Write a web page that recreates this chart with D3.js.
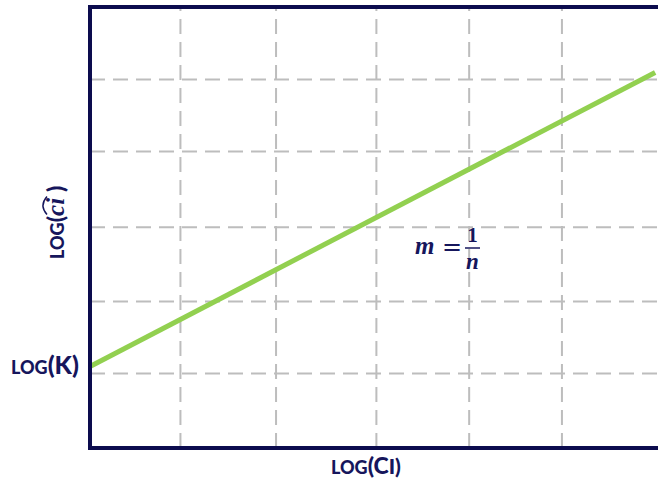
<!DOCTYPE html>
<html>
<head>
<meta charset="utf-8">
<script src="https://cdn.jsdelivr.net/npm/d3@7"></script>
<style>
  html, body { margin: 0; padding: 0; background: #ffffff; }
  svg { display: block; }
</style>
</head>
<body>
<svg id="chart" width="658" height="480"></svg>
<script>
// Freundlich isotherm, linearised: log(q) = log(K) + (1/n) log(C)
const logC = [0, 5.97];
const logQ = [1.11, 5.11];

// Dashed grid positions (axis units)
const gridX = [0.95, 1.96, 3.02, 4.0, 4.98];
const gridY = [1.02, 2.0, 3.01, 4.04, 5.02];

const navy = "#0c0c4e";
const textNavy = "#16165c";
const green = "#92d050";
const gridGrey = "#bdbdbd";

const svg = d3.select("#chart");

const x = d3.scaleLinear().domain([0, 6]).range([90, 658]);
const y = d3.scaleLinear().domain([0, 6]).range([448, 7]);

// Grid lines via axes with full-length ticks
const gx = svg.append("g")
  .attr("transform", `translate(0,${y(0)})`)
  .call(d3.axisBottom(x).tickValues(gridX).tickSize(-(y(0) - y(6))).tickFormat(""));
gx.select(".domain").remove();
gx.selectAll(".tick line")
  .attr("stroke", gridGrey).attr("stroke-width", 2).attr("stroke-dasharray", "15,8");

const gy = svg.append("g")
  .attr("transform", `translate(${x(0)},0)`)
  .call(d3.axisLeft(y).tickValues(gridY).tickSize(-(x(6) - x(0))).tickFormat(""));
gy.select(".domain").remove();
gy.selectAll(".tick line")
  .attr("stroke", gridGrey).attr("stroke-width", 2).attr("stroke-dasharray", "15,8");

// Fitted line
const pts = logC.map((c, i) => [c, logQ[i]]);
svg.append("path")
  .datum(pts)
  .attr("fill", "none")
  .attr("stroke", green)
  .attr("stroke-width", 5)
  .attr("d", d3.line().x(d => x(d[0])).y(d => y(d[1])));

// Frame: left axis, bottom axis, top edge
svg.append("path")
  .attr("fill", "none")
  .attr("stroke", navy)
  .attr("stroke-width", 4)
  .attr("d", `M${x(6)},${y(6)} H${x(0)} V${y(0)} H${x(6)}`);

const sansFamily = "'Lato', 'Open Sans', sans-serif";

// y-intercept label
const kLabel = svg.append("text")
  .attr("x", 11).attr("y", 374)
  .attr("font-family", sansFamily).attr("font-weight", 900)
  .attr("fill", textNavy);
kLabel.append("tspan").attr("font-size", 18).text("LOG");
kLabel.append("tspan").attr("font-size", 25).text("(K)");

// x-axis title
const xTitle = svg.append("text")
  .attr("x", 331).attr("y", 474)
  .attr("font-family", sansFamily).attr("font-weight", 900)
  .attr("fill", textNavy);
xTitle.append("tspan").attr("font-size", 18).text("LOG");
xTitle.append("tspan").attr("font-size", 23).text("(C");
xTitle.append("tspan").attr("font-size", 21).text("I)");

// y-axis title, rotated
const yg = svg.append("g").attr("transform", "translate(64,259) rotate(-90)");
const yTitle = yg.append("text")
  .attr("x", 0).attr("y", 0)
  .attr("font-family", sansFamily).attr("font-weight", 900)
  .attr("fill", textNavy);
yTitle.append("tspan").attr("font-size", 18).text("LOG");
yTitle.append("tspan").attr("font-size", 23).text("(");
yTitle.append("tspan")
  .attr("font-family", "'Liberation Serif', 'DejaVu Serif', serif")
  .attr("font-style", "italic").attr("font-weight", 700)
  .attr("font-size", 25).text("ci");
yTitle.append("tspan").attr("font-size", 23).attr("dx", 6).text(")");

// Wide hat over "ci"
const tnode = yTitle.node();
const cStart = tnode.getStartPositionOfChar(4).x;
const iEnd = tnode.getEndPositionOfChar(5).x;
const hx0 = cStart + 1.5, hx1 = iEnd + 1.5, hy = -19;
yg.append("path")
  .attr("fill", "none")
  .attr("stroke", textNavy)
  .attr("stroke-width", 1.5)
  .attr("d", `M${hx0},${hy + 2} Q${(hx0 + hx1) / 2},${hy - 6} ${hx1},${hy + 2}`);

// Slope annotation m = 1/n
const serif = "'Liberation Serif', 'DejaVu Serif', serif";
svg.append("text")
  .attr("x", 415).attr("y", 254)
  .attr("font-family", serif).attr("font-style", "italic").attr("font-weight", 700)
  .attr("font-size", 25).attr("fill", textNavy)
  .text("m");
svg.append("text")
  .attr("x", 452).attr("y", 255)
  .attr("text-anchor", "middle")
  .attr("font-family", "'DejaVu Sans', sans-serif").attr("font-weight", 400)
  .attr("font-size", 24).attr("fill", textNavy)
  .text("=");
svg.append("text")
  .attr("x", 472.5).attr("y", 242)
  .attr("text-anchor", "middle")
  .attr("font-family", serif).attr("font-weight", 700)
  .attr("font-size", 21).attr("fill", textNavy)
  .text("1");
svg.append("line")
  .attr("x1", 465).attr("x2", 480).attr("y1", 248).attr("y2", 248)
  .attr("stroke", textNavy).attr("stroke-width", 1.5);
svg.append("text")
  .attr("x", 472.5).attr("y", 269)
  .attr("text-anchor", "middle")
  .attr("font-family", serif).attr("font-style", "italic").attr("font-weight", 700)
  .attr("font-size", 23).attr("fill", textNavy)
  .text("n");
</script>
</body>
</html>
